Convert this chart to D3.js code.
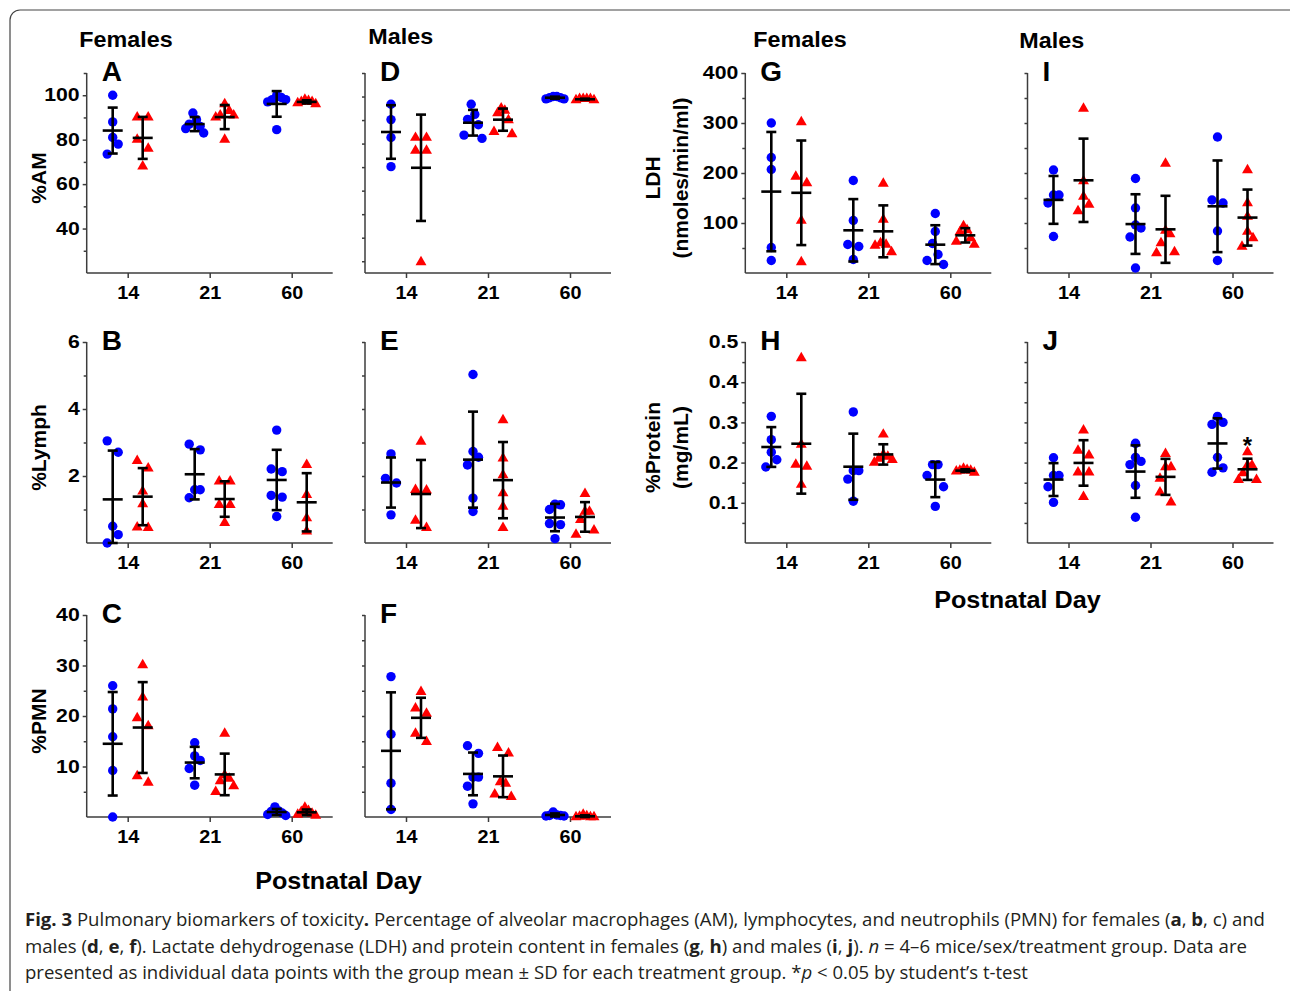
<!DOCTYPE html>
<html>
<head>
<meta charset="utf-8">
<script src="https://cdn.jsdelivr.net/npm/d3@7"></script>
<style>
  body { margin: 0; background: #fff; }
  svg text { font-family: "Liberation Sans", Arial, sans-serif; }
</style>
</head>
<body>
<svg id="fig" width="1290" height="991"></svg>
<script>
// Postnatal days on every x axis
const days = ["14", "21", "60"];

// %AM, females (A) and males (D): blue circles = control, red triangles = treated
const amFemCtrl = [[100, 88, 81, 78, 73.5], [92, 89, 87, 86, 85, 83], [100, 99, 98, 98, 97, 84.5]];
const amFemTrt  = [[90, 90, 80, 76, 68], [96, 93, 91, 91, 90, 80], [98, 97.5, 97, 97, 96.5, 96]];
const amMaleCtrl = [[96.7, 90.2, 82.6, 70.2], [96.7, 92.4, 90.3, 88, 83.6, 82.2], [100, 100, 99.5, 99.5, 99, 99]];
const amMaleTrt  = [[82.5, 82.5, 77, 77, 29.6], [95, 94, 93, 90, 85, 84], [99, 99, 99, 98.5, 98.5, 99]];

// %Lymph (B, E)
const lymFemCtrl = [[3.05, 2.71, 0.5, 0.25, 0], [2.95, 2.78, 1.59, 1.59, 1.35], [3.37, 2.21, 2.13, 1.42, 1.37, 0.79]];
const lymFemTrt  = [[2.45, 2.23, 1.54, 1.16, 0.47, 0.45], [1.84, 1.84, 1.14, 1.14, 0.6], [2.33, 1.44, 0.74, 0.35]];
const lymMaleCtrl = [[2.66, 1.93, 1.79, 0.84], [5.03, 2.73, 2.56, 2.33, 1.34, 0.94], [1.16, 1.14, 1.0, 0.58, 0.55, 0.13]];
const lymMaleTrt  = [[3.03, 1.59, 1.57, 0.67, 0.45], [3.67, 2.53, 2.03, 1.49, 1.09, 0.45], [1.47, 0.94, 0.94, 0.69, 0.38, 0.25]];

// %PMN (C, F)
const pmnFemCtrl = [[26, 21.4, 15.9, 9.2, 0], [14.7, 12.1, 11.2, 9.6, 6.3], [2, 1.2, 1.1, 0.8, 0.5, 0.3]];
const pmnFemTrt  = [[30.1, 23.7, 19.6, 18, 8.1, 6.8], [16.5, 8.3, 7.6, 7.1, 6.1, 5], [1.85, 1.2, 1.0, 0.7, 0.5, 0.3]];
const pmnMaleCtrl = [[27.8, 16.4, 6.7, 1.5], [14.1, 12.6, 7.9, 7.9, 6.1, 2.6], [1.0, 0.4, 0.3, 0.3, 0.2, 0.2]];
const pmnMaleTrt  = [[24.8, 21.5, 20.5, 16.5, 14.9], [13.7, 12.6, 6.9, 6.6, 4.5, 4], [0.5, 0.2, 0.1, 0, 0, 0]];

// LDH (G, I)
const ldhFemCtrl = [[300, 231, 207, 51, 25], [185, 105, 57, 53, 27], [119, 83, 59, 37, 25, 17]];
const ldhFemTrt  = [[302, 193, 180, 105, 22], [179, 107, 60, 57, 55, 42], [94, 86, 82, 70, 63, 57]];
const ldhMaleCtrl = [[206, 156, 156, 140, 73], [189, 130, 96, 90, 72, 10], [272, 146, 140, 84, 25]];
const ldhMaleTrt  = [[329, 184, 153, 137, 124], [219, 85, 78, 60, 42, 40], [206, 140, 113, 83, 70, 53]];

// Protein (H, J)
const protFemCtrl = [[0.315, 0.257, 0.226, 0.207, 0.189], [0.326, 0.18, 0.18, 0.159, 0.104], [0.195, 0.195, 0.168, 0.14, 0.091]];
const protFemTrt  = [[0.46, 0.245, 0.195, 0.19, 0.145], [0.27, 0.22, 0.215, 0.21, 0.207, 0.2], [0.185, 0.182, 0.18, 0.18, 0.178, 0.175]];
const protMaleCtrl = [[0.212, 0.168, 0.168, 0.14, 0.101], [0.248, 0.213, 0.203, 0.195, 0.143, 0.064], [0.315, 0.3, 0.295, 0.213, 0.187, 0.176]];
const protMaleTrt  = [[0.28, 0.23, 0.218, 0.176, 0.176, 0.115], [0.222, 0.189, 0.189, 0.16, 0.126, 0.101], [0.226, 0.193, 0.193, 0.174, 0.157, 0.157]];

// y domains and tick values
const amFemDomain = [20, 110], amFemLabels = [40, 60, 80, 100], amFemMinor = [30, 50, 70, 90, 110];
const amMaleDomain = [25, 110], amMaleTicks = [30, 40, 50, 60, 70, 80, 90, 100, 110];
const lymDomain = [0, 6], lymLabels = [2, 4, 6], lymMinor = [1, 3, 5], lymMaleTicks = [1, 2, 3, 4, 5, 6];
const pmnDomain = [0, 40], pmnLabels = [10, 20, 30, 40], pmnMinor = [5, 15, 25, 35], pmnMaleTicks = [5, 10, 15, 20, 25, 30, 35, 40];
const ldhDomain = [0, 400], ldhLabels = [100, 200, 300, 400], ldhMinor = [50, 150, 250, 350], ldhMaleTicks = [50, 100, 150, 200, 250, 300, 350, 400];
const protDomain = [0, 0.5], protLabels = [0.1, 0.2, 0.3, 0.4, 0.5], protMinor = [0.05, 0.15, 0.25, 0.35, 0.45];
const protMaleTicks = [0.05, 0.1, 0.15, 0.2, 0.25, 0.3, 0.35, 0.4, 0.45, 0.5];

// significance marks: [panel, day index]
const starMarks = [["J", 2]];

// layout
const colX = [86.7, 365, 745.3, 1027.5];
const rowTop = [73, 342, 615];
const rowBottom = [273, 543, 817];
const W = 246;
const BLUE = "#0000ff", RED = "#ff0000";

const panels = [
  { key: "A", col: 0, row: 0, ctrl: amFemCtrl, trt: amFemTrt, domain: amFemDomain, labels: amFemLabels, minor: amFemMinor, title: ["%AM"] },
  { key: "D", col: 1, row: 0, ctrl: amMaleCtrl, trt: amMaleTrt, domain: amMaleDomain, labels: [], minor: amMaleTicks },
  { key: "G", col: 2, row: 0, ctrl: ldhFemCtrl, trt: ldhFemTrt, domain: ldhDomain, labels: ldhLabels, minor: ldhMinor, title: ["LDH", "(nmoles/min/ml)"] },
  { key: "I", col: 3, row: 0, ctrl: ldhMaleCtrl, trt: ldhMaleTrt, domain: ldhDomain, labels: [], minor: ldhMaleTicks },
  { key: "B", col: 0, row: 1, ctrl: lymFemCtrl, trt: lymFemTrt, domain: lymDomain, labels: lymLabels, minor: lymMinor, title: ["%Lymph"] },
  { key: "E", col: 1, row: 1, ctrl: lymMaleCtrl, trt: lymMaleTrt, domain: lymDomain, labels: [], minor: lymMaleTicks },
  { key: "H", col: 2, row: 1, ctrl: protFemCtrl, trt: protFemTrt, domain: protDomain, labels: protLabels, minor: protMinor, title: ["%Protein", "(mg/mL)"] },
  { key: "J", col: 3, row: 1, ctrl: protMaleCtrl, trt: protMaleTrt, domain: protDomain, labels: [], minor: protMaleTicks },
  { key: "C", col: 0, row: 2, ctrl: pmnFemCtrl, trt: pmnFemTrt, domain: pmnDomain, labels: pmnLabels, minor: pmnMinor, title: ["%PMN"] },
  { key: "F", col: 1, row: 2, ctrl: pmnMaleCtrl, trt: pmnMaleTrt, domain: pmnDomain, labels: [], minor: pmnMaleTicks }
];

const svg = d3.select("#fig");

// the source figure is stretched sideways, so widen text the same way
function stretch(sel, k) {
  sel.each(function() {
    const w = this.getComputedTextLength();
    d3.select(this).attr("textLength", w * k).attr("lengthAdjust", "spacingAndGlyphs");
  });
}

// rounded frame around the figure
svg.append("rect")
  .attr("x", 10).attr("y", 10)
  .attr("width", 1290).attr("height", 990)
  .attr("rx", 10)
  .attr("fill", "none")
  .attr("stroke", "#444")
  .attr("stroke-width", 1.2);

// spread points of one group sideways like a Prism scatter
function swarm(vals, y, cx) {
  const pts = vals.map(v => ({ v: v, y: y(v) })).sort((a, b) => a.y - b.y);
  const clusters = [];
  let cur = [];
  pts.forEach(p => {
    if (cur.length && p.y - cur[cur.length - 1].y >= 12) { clusters.push(cur); cur = []; }
    cur.push(p);
  });
  if (cur.length) clusters.push(cur);
  clusters.forEach(c => {
    const n = c.length;
    const s = n === 2 ? 11 : Math.min(5.5, 18 / Math.max(1, n - 1));
    const slots = d3.range(n).map(i => (i - (n - 1) / 2) * s);
    const mid = Math.floor((n - 1) / 2);
    const order = [mid];
    for (let k = 1; order.length < n; k++) {
      if (mid + k < n) order.push(mid + k);
      if (mid - k >= 0 && order.length < n) order.push(mid - k);
    }
    c.forEach((p, i) => { p.x = cx + slots[order[i]]; });
  });
  return pts;
}

panels.forEach(p => {
  const x0 = colX[p.col], top = rowTop[p.row], bottom = rowBottom[p.row];
  const g = svg.append("g").attr("class", "panel panel-" + p.key);

  const x = d3.scalePoint().domain(days).range([x0, x0 + W]).padding(0.5);
  const y = d3.scaleLinear().domain(p.domain).range([bottom, top]);

  // y axis: minor ticks, then labelled ticks
  const yMinor = g.append("g")
    .attr("transform", `translate(${x0},0)`)
    .call(d3.axisLeft(y).tickValues(p.minor).tickSize(3).tickSizeOuter(0).tickFormat(""));
  yMinor.select(".domain").remove();

  const yAxis = g.append("g")
    .attr("transform", `translate(${x0},0)`)
    .call(d3.axisLeft(y).tickValues(p.labels).tickSize(4).tickPadding(3).tickSizeOuter(0).tickFormat(d => String(d)));
  yAxis.select(".domain").attr("d", `M0,${top}V${bottom}`);

  // x axis
  const xAxis = g.append("g")
    .attr("transform", `translate(0,${bottom})`)
    .call(d3.axisBottom(x).tickSize(5).tickPadding(8).tickSizeOuter(0));
  xAxis.select(".domain").attr("d", `M${x0},0H${x0 + W}`);

  g.selectAll(".domain, .tick line").attr("stroke", "#3c3c3c").attr("stroke-width", 1.5);
  g.selectAll(".tick text")
    .attr("fill", "#000")
    .style("font-size", "18px")
    .style("font-weight", "bold");
  stretch(yAxis.selectAll(".tick text"), 1.18);
  stretch(xAxis.selectAll(".tick text"), 1.1);

  // panel letter
  g.append("text")
    .attr("x", x0 + 15).attr("y", top + 7.5)
    .style("font-size", "28px").style("font-weight", "bold")
    .text(p.key);

  // y title
  if (p.title) {
    const cy = (top + bottom) / 2 + 5;
    p.title.forEach((t, i) => {
      g.append("text")
        .attr("transform", `translate(${x0 - (p.title.length === 1 ? 41 : 85 - i * 28)},${cy}) rotate(-90)`)
        .attr("text-anchor", "middle")
        .style("font-size", "21px").style("font-weight", "bold")
        .text(t);
    });
  }

  // groups: control left, treated right of each day tick
  const groups = [];
  days.forEach((d, i) => {
    groups.push({ day: d, idx: i, kind: "ctrl", vals: p.ctrl[i], cx: x(d) - 15 });
    groups.push({ day: d, idx: i, kind: "trt", vals: p.trt[i], cx: x(d) + 15 });
  });

  groups.forEach(gr => {
    const pts = swarm(gr.vals, y, gr.cx);
    if (gr.kind === "ctrl") {
      g.selectAll(null).data(pts).enter().append("circle")
        .attr("cx", d => d.x).attr("cy", d => d.y).attr("r", 4.7)
        .attr("fill", BLUE);
    } else {
      g.selectAll(null).data(pts).enter().append("path")
        .attr("d", d3.symbol(d3.symbolTriangle, 52))
        .attr("transform", d => `translate(${d.x},${d.y})`)
        .attr("fill", RED);
    }
  });

  // mean +/- SD bars drawn on top of the points
  groups.forEach(gr => {
    const m = d3.mean(gr.vals), sd = d3.deviation(gr.vals);
    const lo = y(Math.max(p.domain[0], m - sd)), hi = y(m + sd), ym = y(m);
    const bar = g.append("g").attr("stroke", "#000").attr("stroke-width", 2.6).attr("fill", "none");
    bar.append("line").attr("x1", gr.cx).attr("x2", gr.cx).attr("y1", lo).attr("y2", hi);
    bar.append("line").attr("x1", gr.cx - 5).attr("x2", gr.cx + 5).attr("y1", lo).attr("y2", lo);
    bar.append("line").attr("x1", gr.cx - 5).attr("x2", gr.cx + 5).attr("y1", hi).attr("y2", hi);
    bar.append("line").attr("x1", gr.cx - 10).attr("x2", gr.cx + 10).attr("y1", ym).attr("y2", ym);

    starMarks.filter(s => s[0] === p.key && s[1] === gr.idx && gr.kind === "trt").forEach(() => {
      g.append("text")
        .attr("x", gr.cx).attr("y", hi - 5)
        .attr("text-anchor", "middle")
        .style("font-size", "24px").style("font-weight", "bold")
        .text("*");
    });
  });
});

// column headings
const headings = [["Females", 79.3, 46.7], ["Males", 368.3, 43.5], ["Females", 753.3, 46.7], ["Males", 1019.3, 48.3]];
const heads = svg.selectAll(null).data(headings).enter().append("text")
  .attr("x", d => d[1]).attr("y", d => d[2])
  .style("font-size", "22px").style("font-weight", "bold")
  .text(d => d[0]);
stretch(heads, 1.06);

// shared x titles
[[338.5, 889], [1017.5, 608]].forEach(pos => {
  const t = svg.append("text")
    .attr("x", pos[0]).attr("y", pos[1])
    .attr("text-anchor", "middle")
    .style("font-size", "24px").style("font-weight", "bold")
    .text("Postnatal Day");
  stretch(t, 1.05);
});

// caption
const capLines = [
  [["Fig. 3", "b"], [" Pulmonary biomarkers of toxicity", ""], [".", "b"],
   [" Percentage of alveolar macrophages (AM), lymphocytes, and neutrophils (PMN) for females (", ""],
   ["a", "b"], [", ", ""], ["b", "b"], [", c) and", ""]],
  [["males (", ""], ["d", "b"], [", ", ""], ["e", "b"], [", ", ""], ["f", "b"],
   ["). Lactate dehydrogenase (LDH) and protein content in females (", ""], ["g", "b"], [", ", ""], ["h", "b"],
   [") and males (", ""], ["i", "b"], [", ", ""], ["j", "b"], ["). ", ""], ["n", "i"],
   [" = 4–6 mice/sex/treatment group. Data are", ""]],
  [["presented as individual data points with the group mean ± SD for each treatment group. *", ""], ["p", "i"],
   [" < 0.05 by student’s t-test", ""]]
];
const capLen = [1240, 1222, 1003];
capLines.forEach((line, i) => {
  const t = svg.append("text")
    .attr("x", 25).attr("y", 926 + i * 26.7)
    .attr("textLength", capLen[i])
    .attr("lengthAdjust", "spacingAndGlyphs")
    .attr("fill", "#231f20")
    .style("font-family", "'Open Sans', sans-serif")
    .style("font-size", "18px");
  line.forEach(seg => {
    t.append("tspan")
      .style("font-weight", seg[1] === "b" ? "bold" : "normal")
      .style("font-style", seg[1] === "i" ? "italic" : "normal")
      .text(seg[0]);
  });
});
</script>
</body>
</html>
